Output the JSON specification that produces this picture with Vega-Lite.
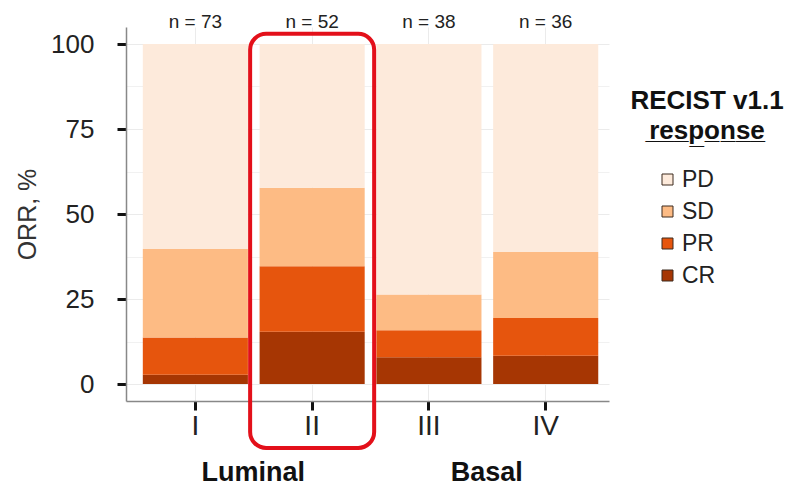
{
  "$schema": "https://vega.github.io/schema/vega-lite/v6.json",
  "width": 483,
  "height": 374,
  "autosize": {"type": "none"},
  "padding": {"left": 126, "top": 27, "right": 183, "bottom": 87},
  "background": "white",
  "config": {"view": {"stroke": null}, "font": "Liberation Sans"},
  "datasets": {
    "resp": [
      {"group": "I", "response": "CR", "k": 1, "pct": 2.7},
      {"group": "I", "response": "PR", "k": 2, "pct": 11.0},
      {"group": "I", "response": "SD", "k": 3, "pct": 26.0},
      {"group": "I", "response": "PD", "k": 4, "pct": 60.3},
      {"group": "II", "response": "CR", "k": 1, "pct": 15.4},
      {"group": "II", "response": "PR", "k": 2, "pct": 19.2},
      {"group": "II", "response": "SD", "k": 3, "pct": 23.1},
      {"group": "II", "response": "PD", "k": 4, "pct": 42.3},
      {"group": "III", "response": "CR", "k": 1, "pct": 7.9},
      {"group": "III", "response": "PR", "k": 2, "pct": 7.9},
      {"group": "III", "response": "SD", "k": 3, "pct": 10.5},
      {"group": "III", "response": "PD", "k": 4, "pct": 73.7},
      {"group": "IV", "response": "CR", "k": 1, "pct": 8.3},
      {"group": "IV", "response": "PR", "k": 2, "pct": 11.1},
      {"group": "IV", "response": "SD", "k": 3, "pct": 19.4},
      {"group": "IV", "response": "PD", "k": 4, "pct": 61.2}
    ],
    "counts": [
      {"group": "I", "n": "n = 73"},
      {"group": "II", "n": "n = 52"},
      {"group": "III", "n": "n = 38"},
      {"group": "IV", "n": "n = 36"}
    ],
    "clusters": [
      {"group": "I", "name": "Luminal"},
      {"group": "III", "name": "Basal"}
    ],
    "box": [{"group": "II"}]
  },
  "layer": [
    {
      "data": {"name": "resp"},
      "mark": {"type": "bar"},
      "encoding": {
        "x": {
          "field": "group",
          "type": "nominal",
          "scale": {"domain": ["I", "II", "III", "IV"], "paddingInner": 0.1, "paddingOuter": 0.118, "align": 0.61},
          "axis": {
            "title": null,
            "labelAngle": 0,
            "labelFontSize": 28,
            "labelColor": "#222",
            "labelPadding": 2,
            "tickColor": "#111",
            "tickWidth": 3,
            "tickSize": 9,
            "domainColor": "#888",
            "domainWidth": 1.5,
            "grid": true,
            "gridColor": "#ebebeb",
            "gridWidth": 1,
            "bandPosition": 0.5
          }
        },
        "y": {
          "field": "pct",
          "type": "quantitative",
          "stack": "zero",
          "scale": {"domain": [-5, 105], "nice": false, "zero": false},
          "axis": {
            "title": "ORR, %",
            "titleFontSize": 25,
            "titleFontWeight": "normal",
            "titleColor": "#333",
            "titlePadding": 10,
            "values": [0, 12.5, 25, 37.5, 50, 62.5, 75, 87.5, 100],
            "labelExpr": "datum.value % 25 == 0 ? datum.label : ''",
            "labelFontSize": 26,
            "labelColor": "#222",
            "labelPadding": 23,
            "tickColor": "#111",
            "tickWidth": 3,
            "tickSize": 9,
            "tickOpacity": {"condition": {"test": "datum.value % 25 == 0", "value": 1}, "value": 0},
            "domainColor": "#888",
            "domainWidth": 1.5,
            "grid": true,
            "gridColor": "#ebebeb",
            "gridWidth": {"condition": {"test": "datum.value % 25 == 0", "value": 1.2}, "value": 0.7}
          }
        },
        "color": {
          "field": "response",
          "type": "nominal",
          "scale": {"domain": ["PD", "SD", "PR", "CR"], "range": ["#fdeadb", "#fdbb84", "#e6550d", "#a63603"]},
          "legend": {
            "orient": "none",
            "legendX": 504,
            "legendY": 61,
            "padding": 0,
            "title": ["RECIST v1.1", "r\u0332e\u0332s\u0332p\u0332o\u0332n\u0332s\u0332e\u0332"],
            "titleFontSize": 26,
            "titleFontWeight": "bold",
            "titleColor": "#111",
            "titleAlign": "center",
            "titleAnchor": "middle",
            "titleLineHeight": 30,
            "titlePadding": 24,
            "symbolType": "square",
            "symbolSize": 121,
            "symbolStrokeColor": "#3d2b1f",
            "symbolStrokeWidth": 1,
            "symbolOpacity": 1,
            "symbolOffset": -42,
            "labelFontSize": 23,
            "labelColor": "#222",
            "labelOffset": 3,
            "rowPadding": 8
          }
        },
        "order": {"field": "k", "type": "quantitative"}
      }
    },
    {
      "data": {"name": "box"},
      "mark": {"type": "bar", "fill": null, "filled": false, "stroke": "#e3101a", "strokeWidth": 4, "cornerRadius": 16, "width": {"band": 1.18}},
      "encoding": {
        "x": {"field": "group", "type": "nominal"},
        "y": {"datum": 103},
        "y2": {"datum": -18.8}
      }
    },
    {
      "data": {"name": "counts"},
      "mark": {"type": "text", "fontSize": 19, "color": "#222", "baseline": "middle"},
      "encoding": {
        "x": {"field": "group", "type": "nominal"},
        "y": {"datum": 106.5},
        "text": {"field": "n"}
      }
    },
    {
      "data": {"name": "clusters"},
      "mark": {"type": "text", "fontSize": 27, "fontWeight": "bold", "color": "#111", "baseline": "middle"},
      "encoding": {
        "x": {"field": "group", "type": "nominal", "bandPosition": 1.05},
        "y": {"datum": -26.2},
        "text": {"field": "name"}
      }
    }
  ]
}
